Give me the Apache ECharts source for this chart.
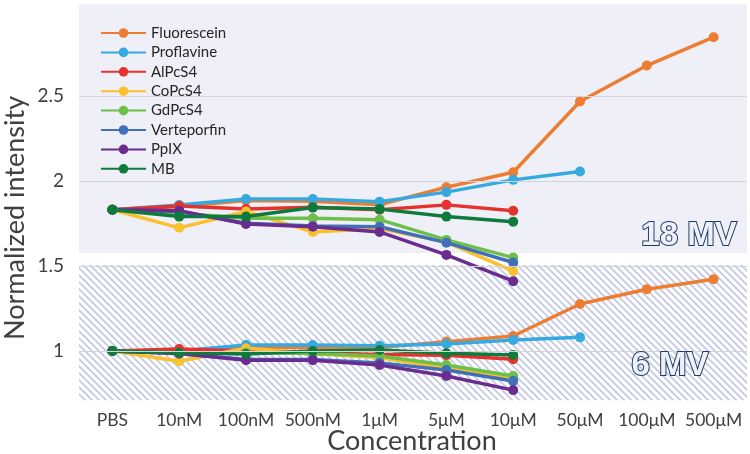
<!DOCTYPE html>
<html>
<head>
<meta charset="utf-8">
<script src="https://cdn.jsdelivr.net/npm/echarts@6/dist/echarts.min.js"></script>
<style>html,body{margin:0;padding:0;background:#fff}#c{width:750px;height:454px}</style>
</head>
<body>
<div id="c"></div>
<script>
var categories = ['PBS','10nM','100nM','500nM','1\u03bcM','5\u03bcM','10\u03bcM','50\u03bcM','100\u03bcM','500\u03bcM'];
var seriesNames = ['Fluorescein','Proflavine','AlPcS4','CoPcS4','GdPcS4','Verteporfin','PpIX','MB'];
var yTickValues = [1, 1.5, 2, 2.5];

// 18 MV (upper group)
var mv18_Fluorescein = [1.83, 1.85, 1.885, 1.88, 1.86, 1.963, 2.051, 2.467, 2.678, 2.845];
var mv18_Proflavine  = [1.83, 1.858, 1.894, 1.894, 1.878, 1.934, 2.006, 2.055];
var mv18_AlPcS4      = [1.83, 1.853, 1.835, 1.845, 1.83, 1.859, 1.824];
var mv18_CoPcS4      = [1.83, 1.724, 1.82, 1.70, 1.72, 1.64, 1.47];
var mv18_GdPcS4      = [1.83, 1.81, 1.78, 1.78, 1.772, 1.653, 1.549];
var mv18_Verteporfin = [1.83, 1.82, 1.751, 1.735, 1.73, 1.637, 1.52];
var mv18_PpIX        = [1.83, 1.825, 1.747, 1.73, 1.70, 1.565, 1.41];
var mv18_MB          = [1.83, 1.79, 1.79, 1.843, 1.834, 1.79, 1.76];

// 6 MV (lower group)
var mv6_Fluorescein = [1.0, 1.0, 1.02, 1.02, 1.02, 1.055, 1.088, 1.276, 1.363, 1.422];
var mv6_Proflavine  = [1.0, 1.0, 1.035, 1.035, 1.03, 1.041, 1.065, 1.08];
var mv6_AlPcS4      = [1.0, 1.012, 1.0, 0.99, 0.98, 0.975, 0.951];
var mv6_CoPcS4      = [1.0, 0.94, 1.016, 0.985, 0.96, 0.90, 0.835];
var mv6_GdPcS4      = [1.0, 0.99, 0.99, 0.985, 0.97, 0.918, 0.853];
var mv6_Verteporfin = [1.0, 0.985, 0.95, 0.95, 0.93, 0.888, 0.824];
var mv6_PpIX        = [1.0, 0.985, 0.945, 0.945, 0.918, 0.853, 0.77];
var mv6_MB          = [1.0, 0.99, 0.982, 1.0, 1.006, 0.986, 0.976];

var mv18 = [mv18_Fluorescein, mv18_Proflavine, mv18_AlPcS4, mv18_CoPcS4, mv18_GdPcS4, mv18_Verteporfin, mv18_PpIX, mv18_MB];
var mv6 = [mv6_Fluorescein, mv6_Proflavine, mv6_AlPcS4, mv6_CoPcS4, mv6_GdPcS4, mv6_Verteporfin, mv6_PpIX, mv6_MB];
var colors = ['#ED7D31','#35A9E0','#E5322D','#FBC02D','#6DBE4B','#4270B8','#6A2C8F','#0E7A3B'];

// hatch pattern
var pc = document.createElement('canvas');
pc.width = 7; pc.height = 7;
var g = pc.getContext('2d');
g.fillStyle = '#ffffff'; g.fillRect(0,0,7,7);
g.strokeStyle = '#C4C9E6'; g.lineWidth = 1.8;
g.beginPath();
g.moveTo(-1,-1); g.lineTo(8,8);
g.moveTo(-8,-1); g.lineTo(1,8);
g.moveTo(6,-1); g.lineTo(15,8);
g.stroke();

var series = [];
series.push({
  type: 'line', name: 'bg', data: [], z: 1, silent: true,
  markArea: {
    silent: true,
    data: [
      [{yAxis: 1.576, itemStyle: {color: '#EFF0F7'}}, {yAxis: 3.04}],
      [{yAxis: 0.71, itemStyle: {color: {image: pc, repeat: 'repeat'}}}, {yAxis: 1.506}]
    ]
  },
  markLine: {
    silent: true, symbol: 'none', label: {show: false},
    lineStyle: {color: '#D4D4D8', width: 1, type: 'solid'},
    data: yTickValues.map(function (v) { return {yAxis: v}; })
  }
});
function addGroup(arr) {
  for (var i = 0; i < seriesNames.length; i++) {
    series.push({
      type: 'line', name: seriesNames[i], data: arr[i], z: 3,
      symbol: 'circle', symbolSize: 10,
      lineStyle: {width: 3.5, color: colors[i]},
      itemStyle: {color: colors[i]},
      emphasis: {disabled: true}
    });
  }
}
addGroup(mv18);
addGroup(mv6);

var chart = echarts.init(document.getElementById('c'));
chart.setOption({
  animation: false,
  color: colors,
  grid: {left: 79, right: 3, top: 4, bottom: 52},
  legend: {
    data: seriesNames, orient: 'vertical', left: 100, top: 25,
    itemWidth: 45, itemHeight: 12, itemGap: 3.4, padding: 0,
    textStyle: {fontFamily: 'Lato', fontSize: 15, color: '#262626', lineHeight: 16}
  },
  xAxis: {
    type: 'category', data: categories, boundaryGap: true,
    axisLine: {show: false}, axisTick: {show: false},
    axisLabel: {interval: 0, fontFamily: 'Lato', fontSize: 17.5, color: '#404040', margin: 9}
  },
  yAxis: {
    type: 'value', min: 0.7, max: 3.04,
    splitLine: {show: false}, axisLine: {show: false}, axisTick: {show: false},
    axisLabel: {customValues: yTickValues, fontFamily: 'Lato', fontSize: 19, color: '#404040', margin: 15}
  },
  graphic: [
    {type: 'text', x: 15, y: 218, rotation: Math.PI / 2, silent: true, z: 100,
     style: {text: 'Normalized intensity', fontFamily: 'Lato', fontSize: 27, fill: '#404040', align: 'center', verticalAlign: 'middle'}},
    {type: 'text', x: 412, y: 441, silent: true, z: 100,
     style: {text: 'Concentration', fontFamily: 'Lato', fontSize: 27, fill: '#404040', align: 'center', verticalAlign: 'middle'}},
    {type: 'text', x: 689, y: 236, silent: true, z: 100,
     style: {text: '18 MV', fontFamily: 'Liberation Sans', fontWeight: 'bold', fontSize: 33, fill: '#EEF1F8', stroke: '#1F3864', lineWidth: 2, align: 'center', verticalAlign: 'middle'}},
    {type: 'text', x: 670, y: 366, silent: true, z: 100,
     style: {text: '6 MV', fontFamily: 'Liberation Sans', fontWeight: 'bold', fontSize: 33, fill: '#EEF1F8', stroke: '#1F3864', lineWidth: 2, align: 'center', verticalAlign: 'middle'}}
  ],
  series: series
});
</script>
</body>
</html>
